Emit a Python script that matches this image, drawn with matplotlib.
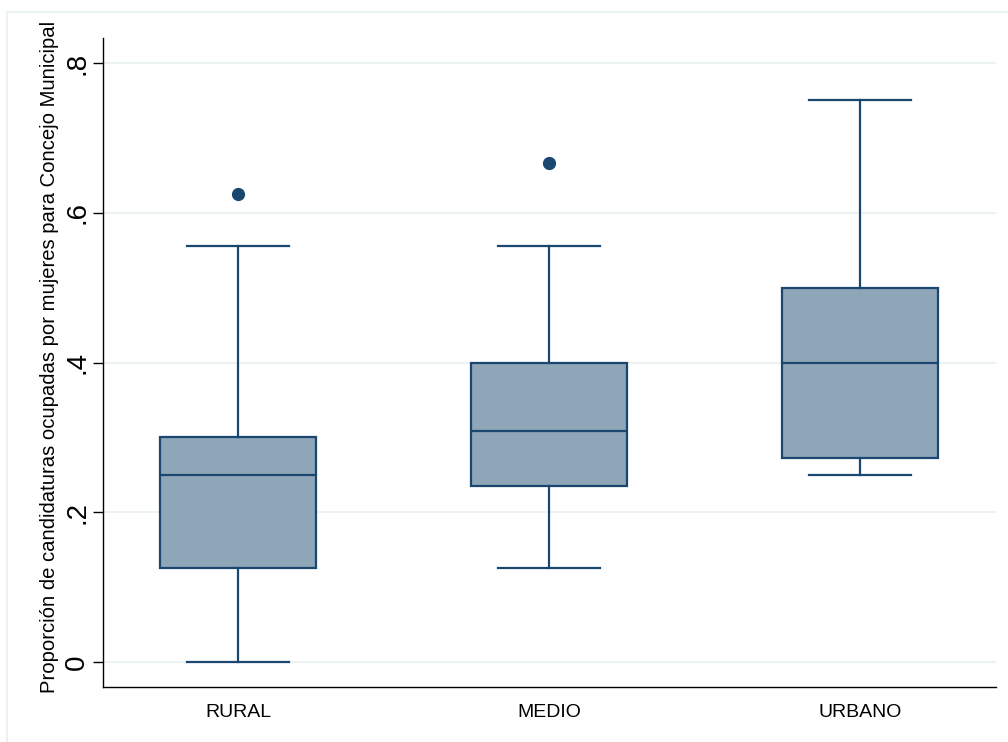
import matplotlib
matplotlib.use("Agg")
import matplotlib.pyplot as plt
from matplotlib.patches import Rectangle

plt.rcParams['font.family'] = ['Liberation Sans', 'DejaVu Sans']

categories = ["RURAL", "MEDIO", "URBANO"]
whislo = [0.0, 0.125, 0.25]
q1 = [0.125, 0.235, 0.273]
medians = [0.25, 0.308, 0.40]
q3 = [0.30, 0.40, 0.50]
whishi = [0.556, 0.556, 0.75]
outliers = [[0.625], [0.667], []]
yticks = [0, 0.2, 0.4, 0.6, 0.8]
yticklabels = ["0", ".2", ".4", ".6", ".8"]
ylabel = "Proporción de candidaturas ocupadas por mujeres para Concejo Municipal"

navy = "#1a476f"
fill = "#8fa5b8"
grid = "#eaf2f3"

stats = []
for i, c in enumerate(categories):
    stats.append(dict(label=c, whislo=whislo[i], q1=q1[i], med=medians[i],
                      q3=q3[i], whishi=whishi[i], fliers=outliers[i]))

fig = plt.figure(figsize=(10.08, 7.42), dpi=100)
fig.patches.append(Rectangle((7/1008, -0.1), 1.2, 1 - 12/742 + 0.1,
                             transform=fig.transFigure, fill=False,
                             edgecolor=grid, linewidth=1.5, zorder=0))
ax = fig.add_axes([103/1008, 1 - 687/742, (996-103)/1008, (687-38)/742])

ax.bxp(stats, positions=[1, 2, 3], widths=0.5, capwidths=0.33,
       patch_artist=True, showfliers=True,
       boxprops=dict(facecolor=fill, edgecolor=navy, linewidth=1.6),
       medianprops=dict(color=navy, linewidth=1.6),
       whiskerprops=dict(color=navy, linewidth=1.6),
       capprops=dict(color=navy, linewidth=1.6),
       flierprops=dict(marker='o', markerfacecolor=navy, markeredgecolor=navy,
                       markersize=8.5))

ax.set_xlim(0.566, 3.437)
ax.set_ylim(-0.0334, 0.8334)
ax.set_yticks(yticks)
ax.set_yticklabels(yticklabels, rotation=90, va='center', fontsize=20)
ax.set_xticks([1, 2, 3])
ax.set_xticklabels(categories, fontsize=14)
ax.tick_params(axis='x', length=0, pad=12)
ax.tick_params(axis='y', length=7.2, width=1, pad=2)
for y in yticks:
    ax.axhline(y, color=grid, linewidth=1.5, zorder=0)
ax.set_axisbelow(True)
ax.spines['top'].set_visible(False)
ax.spines['right'].set_visible(False)
ax.spines['left'].set_linewidth(1)
ax.spines['bottom'].set_linewidth(1)
ax.set_ylabel(ylabel, fontsize=14.6)
ax.yaxis.set_label_coords((59 - 103) / 893, 0.509)

fig.savefig("out.png", dpi=100)
